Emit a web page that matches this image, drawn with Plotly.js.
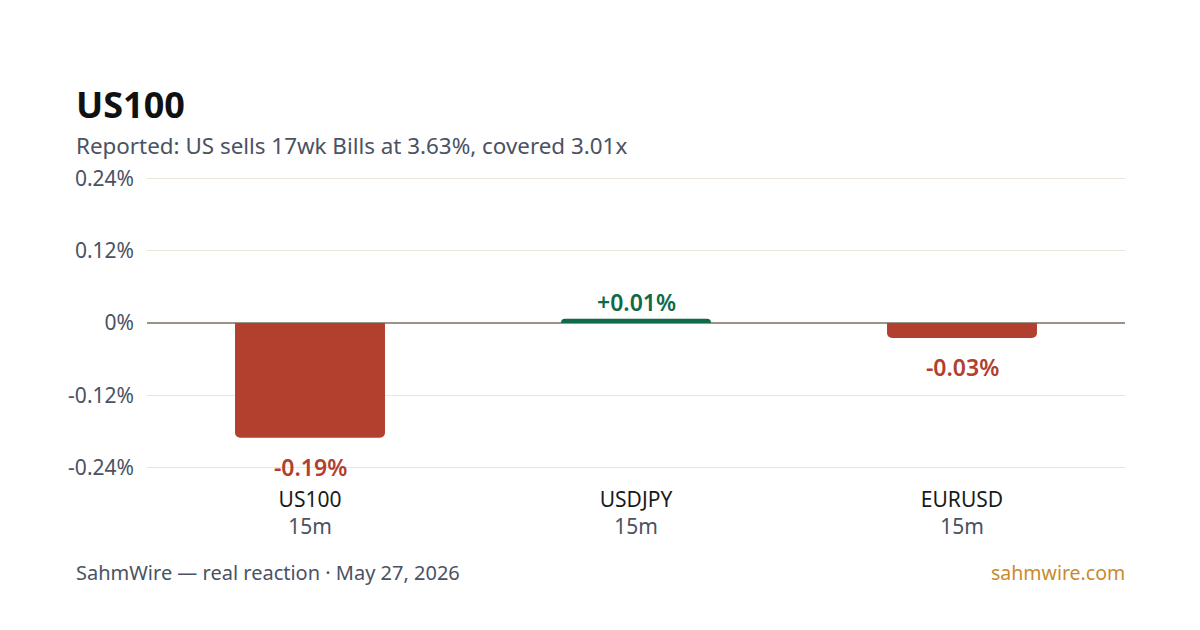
<!DOCTYPE html>
<html><head><meta charset="utf-8">
<script src="https://cdn.plot.ly/plotly-3.0.1.min.js"></script>
<style>html,body{margin:0;padding:0;background:#fff}#c{width:1200px;height:630px}</style>
</head><body><div id="c"></div>
<script>
const symbols = ["US100", "USDJPY", "EURUSD"];
const windows = ["15m", "15m", "15m"];
const changes = [-0.19, 0.007, -0.025];
const yTicks = [-0.24, -0.12, 0, 0.12, 0.24];
const yTickLabels = ["-0.24%", "-0.12%", "0%", "0.12%", "0.24%"];
const title = "US100";
const subtitle = "Reported: US sells 17wk Bills at 3.63%, covered 3.01x";
const footerLeft = "SahmWire — real reaction · May 27, 2026";
const footerRight = "sahmwire.com";

const RED = "#b1402f", GREEN = "#0e6a48";
const FONT = "Noto Sans, Open Sans, sans-serif";
const colors = changes.map(v => v >= 0 ? GREEN : RED);
const labels = changes.map(v => (v >= 0 ? "+" : "") + v.toFixed(2) + "%");
const tickText = symbols.map((s, i) => s + '<br><span style="color:#4a5263">' + windows[i] + '</span>');

const trace = {
  type: "bar", x: symbols, y: changes,
  marker: {color: colors, line: {width: 0}},
  width: 0.46,
  hoverinfo: "skip"
};

const valueLabels = symbols.map((s, i) => ({
  text: labels[i], x: s, y: changes[i], xref: "x", yref: "y",
  xanchor: "center", yanchor: "middle", showarrow: false,
  yshift: changes[i] >= 0 ? 17 : -29,
  font: {family: FONT, size: 23, color: colors[i], weight: 600}
}));

// paper coords: plot spans y 177..469 (292px), x 147..1125 (978px)
const py = px => (469 - px) / 292;
const pxX = px => (px - 147) / 978;

const layout = {
  width: 1200, height: 630,
  paper_bgcolor: "#fff", plot_bgcolor: "#fff",
  margin: {l: 147, r: 75, t: 177, b: 161},
  barcornerradius: 5,
  showlegend: false,
  font: {family: FONT, color: "#4a5263"},
  xaxis: {
    type: "category", tickvals: symbols, ticktext: tickText,
    tickfont: {family: FONT, size: 21, color: "#1a1a1a"},
    showgrid: false, zeroline: false, showline: false, ticks: "",
    ticklabelstandoff: 16, fixedrange: true
  },
  yaxis: {
    range: [-0.242, 0.242], tickvals: yTicks, ticktext: yTickLabels,
    tickfont: {family: FONT, size: 21, color: "#4a5263"},
    gridcolor: "#ece6d8", gridwidth: 1,
    zeroline: true, zerolinecolor: "#9b9484", zerolinewidth: 2,
    showline: false, ticks: "", ticklabelstandoff: 12, fixedrange: true
  },
  annotations: [
    {text: "<b>" + title + "</b>", xref: "paper", yref: "paper", x: pxX(74), y: py(105),
     xanchor: "left", yanchor: "middle", showarrow: false,
     font: {family: FONT, size: 36, color: "#111"}},
    {text: subtitle, xref: "paper", yref: "paper", x: pxX(74), y: py(146),
     xanchor: "left", yanchor: "middle", showarrow: false,
     font: {family: FONT, size: 22.4, color: "#4a5263"}},
    {text: footerLeft, xref: "paper", yref: "paper", x: pxX(74), y: py(572),
     xanchor: "left", yanchor: "middle", showarrow: false,
     font: {family: FONT, size: 20, color: "#4a5263"}},
    {text: footerRight, xref: "paper", yref: "paper", x: pxX(1127), y: py(572),
     xanchor: "right", yanchor: "middle", showarrow: false,
     font: {family: FONT, size: 19.5, color: "#c98a2e"}}
  ].concat(valueLabels)
};
Plotly.newPlot("c", [trace], layout, {displayModeBar: false, staticPlot: true});
</script></body></html>
